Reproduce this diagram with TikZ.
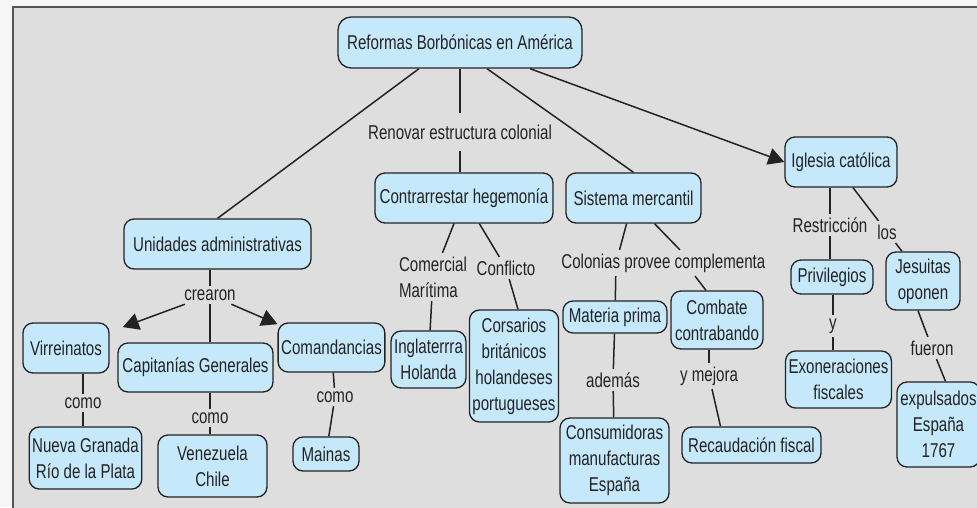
\documentclass[tikz,border=0pt]{standalone}
\usepackage{fontspec}
\setmainfont{Liberation Sans}[FakeStretch=0.755]
\usetikzlibrary{positioning}
\usetikzlibrary{arrows.meta}
\definecolor{outer}{RGB}{246,246,246}
\definecolor{panel}{RGB}{222,222,222}
\definecolor{framec}{RGB}{85,85,85}
\definecolor{cfill}{RGB}{197,232,250}
\definecolor{ink}{RGB}{35,35,35}
\tikzset{cpt/.style={draw=ink,fill=cfill,rounded corners=10pt,line width=1.3pt,inner xsep=3pt,inner ysep=2pt,align=center,text=ink}}
\tikzset{lbl/.style={inner xsep=2pt,inner ysep=3pt,align=center,text=ink}}
\tikzset{>={Triangle[length=16pt,width=17pt]}}

\begin{document}
\begin{tikzpicture}[x=1pt, y=-1pt, font=\fontsize{20pt}{26pt}\selectfont, line width=1.5pt, draw=ink]
        \useasboundingbox (0,0) rectangle (977,507);
        \fill[outer] (0,0) rectangle (977,507);
        \filldraw[fill=panel, draw=framec, line width=1.6pt] (13,7) rectangle (995,525);

        \node[cpt, rounded corners=13pt, minimum width=244pt, minimum height=51pt] (Ref) at (460,42.5) {Reformas Borbónicas en América};
        \node[lbl, inner ysep=11pt] (Renov) at (460,132) {Renovar estructura colonial};
        \node[cpt, minimum width=178pt, minimum height=50pt] (Contra) at (464,198) {Contrarrestar hegemonía};
        \node[cpt, minimum width=135pt, minimum height=50pt] (Sist) at (633.5,198) {Sistema mercantil};
        \node[cpt, minimum width=112pt, minimum height=50pt] (Igl) at (841,162) {Iglesia católica};
        \node[cpt, minimum width=187pt, minimum height=50pt] (Unid) at (217.5,244) {Unidades administrativas};

        \node[lbl] (Crea) at (210,295) {crearon};
        \node[cpt, minimum width=86pt, minimum height=50pt] (Virr) at (66,348) {Virreinatos};
        \node[cpt, minimum width=155pt, minimum height=49pt] (Cap) at (195.5,367.5) {Capitanías Generales};
        \node[cpt, minimum width=105pt, minimum height=49pt] (Coman) at (331.5,347.5) {Comandancias};
        \node[lbl] (Como1) at (83,403) {como};
        \node[lbl] (Como2) at (210,418) {como};
        \node[lbl] (Como3) at (335,397) {como};
        \node[cpt, minimum width=111pt, minimum height=62pt] (NG) at (85.5,458) {Nueva Granada\\Río de la Plata};
        \node[cpt, minimum width=109pt, minimum height=62pt] (VC) at (212.5,466) {Venezuela\\Chile};
        \node[cpt, minimum width=66pt, minimum height=34pt] (Mai) at (326,454) {Mainas};

        \node[lbl, align=left] (Comer) at (433,277) {Comercial\\Marítima};
        \node[lbl] (Confl) at (506,268) {Conflicto};
        \node[cpt, minimum width=73pt, minimum height=57pt] (Ingl) at (428.5,359.5) {Inglaterrra\\Holanda};
        \node[cpt, minimum width=88pt, minimum height=112pt] (Cors) at (514,366) {Corsarios\\británicos\\holandeses\\portugueses};

        \node[lbl] (ColProv) at (616,263) {Colonias provee};
        \node[lbl] (Compl) at (720,263) {complementa};
        \node[cpt, minimum width=104pt, minimum height=32pt] (Mat) at (615,317) {Materia prima};
        \node[cpt, minimum width=92pt, minimum height=58pt] (Comb) at (717,320) {Combate\\contrabando};
        \node[lbl] (Adem) at (613,380) {además};
        \node[lbl] (YMej) at (709,376) {y mejora};
        \node[cpt, minimum width=109pt, minimum height=85pt] (Cons) at (614.5,460.5) {Consumidoras\\manufacturas\\España};
        \node[cpt, minimum width=139pt, minimum height=36pt] (Rec) at (751.5,445) {Recaudación fiscal};

        \node[lbl] (Restr) at (830,225) {Restricción};
        \node[lbl] (Los) at (887,232) {los};
        \node[cpt, minimum width=82pt, minimum height=34pt] (Priv) at (832,277) {Privilegios};
        \node[cpt, minimum width=74pt, minimum height=58pt] (Jes) at (923,281) {Jesuitas\\oponen};
        \node[lbl] (Ylab) at (833,326) {y};
        \node[lbl] (Fue) at (932,348) {fueron};
        \node[cpt, minimum width=105pt, minimum height=57pt] (Exo) at (838.5,379.5) {Exoneraciones\\fiscales};
        \node[cpt, minimum width=83pt, minimum height=85pt] (Exp) at (938.5,424.5) {expulsados\\España\\1767};

        \draw (Ref) -- (Renov);
        \draw (Renov) -- (Renov |- Contra.north);
        \draw ([xshift=-41pt]Ref.south) -- (Unid.north);
        \draw ([xshift=27pt]Ref.south) -- (Sist.north);
        \draw[->] ([xshift=70pt]Ref.south) -- (Igl.west);

        \draw (Crea |- Unid.south) -- (Crea);
        \draw[->, shorten >=14pt] (Crea) -- (Virr);
        \draw (Crea) -- (Crea |- Cap.north);
        \draw[->] (Crea) -- (Coman);
        \draw (Como1 |- Virr.south) -- (Como1) -- (Como1 |- NG.north);
        \draw (Como2 |- Cap.south) -- (Como2) -- (Como2 |- VC.north);
        \draw (Coman) -- (Como3) -- (Mai);

        \draw (Contra) -- (Comer) -- (Ingl);
        \draw (Contra) -- (Confl);
        \draw (Confl) -- ([xshift=4pt]Cors.north);

        \draw (Sist) -- (ColProv) -- (Mat);
        \draw ([xshift=21pt]Sist.south) -- ([xshift=-40pt]Compl.north);
        \draw ([xshift=-25pt]Compl.south) -- ([xshift=-11pt]Comb.north);
        \draw (Mat) -- (Adem) -- (Cons);
        \draw (YMej |- Comb.south) -- (YMej);
        \draw (YMej) -- ([xshift=-31pt]Rec.north);

        \draw (Restr |- Igl.south) -- (Restr) -- (Restr |- Priv.north);
        \draw ([xshift=12pt]Igl.south) -- (Los);
        \draw (Los) -- ([xshift=-21pt]Jes.north);
        \draw (Ylab |- Priv.south) -- (Ylab) -- (Ylab |- Exo.north);
        \draw ([xshift=-5pt]Jes.south) -- (Fue);
        \draw (Fue) -- ([xshift=7pt]Exp.north);
    \end{tikzpicture}
\end{document}
